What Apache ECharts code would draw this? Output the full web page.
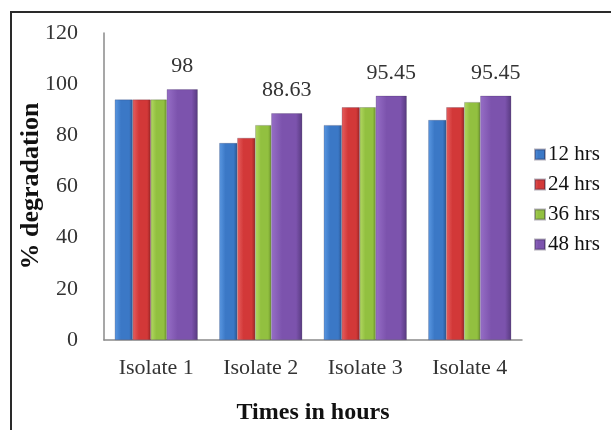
<!DOCTYPE html>
<html>
<head>
<meta charset="utf-8">
<script src="https://cdn.jsdelivr.net/npm/echarts@6/dist/echarts.min.js"></script>
<style>
  html, body { margin: 0; padding: 0; background: #fff; }
  #chart { width: 611px; height: 430px; }
</style>
</head>
<body>
<div id="chart"></div>
<script>
// Degradation (%) per isolate, sampled at four incubation times
const categories = ['Isolate 1', 'Isolate 2', 'Isolate 3', 'Isolate 4'];
const seriesNames = ['12 hrs', '24 hrs', '36 hrs', '48 hrs'];
const hrs12 = [94, 77, 84, 86];
const hrs24 = [94, 79, 91, 91];
const hrs36 = [94, 84, 91, 93];
const hrs48 = [98, 88.63, 95.45, 95.45];
const yTicks = [0, 20, 40, 60, 80, 100, 120];

const FONT = "'Liberation Serif', 'Times New Roman', serif";

// left-lit, right-shaded fills give the columns a rounded 3D look
function columnFill(light, mid, dark) {
  return new echarts.graphic.LinearGradient(0, 0, 1, 0, [
    { offset: 0, color: light },
    { offset: 0.35, color: mid },
    { offset: 0.8, color: mid },
    { offset: 1, color: dark }
  ]);
}

const styles = [
  { fill: columnFill('#5a98e2', '#3b78c6', '#2a5794'), legend: '#3b78c6', width: 18 },
  { fill: columnFill('#e65e5e', '#d23838', '#9a2424'), legend: '#d23838', width: 18 },
  { fill: columnFill('#b2d862', '#92c040', '#6d942c'), legend: '#92c040', width: 16 },
  { fill: columnFill('#966ec6', '#7c53ad', '#583a80'), legend: '#7c53ad', width: 31 }
];
const values = [hrs12, hrs24, hrs36, hrs48];

const series = values.map((vals, i) => ({
  name: seriesNames[i],
  type: 'bar',
  data: vals,
  barWidth: styles[i].width,
  barGap: '0%',
  itemStyle: { color: styles[i].fill, borderColor: 'rgba(40,30,60,0.35)', borderWidth: 0.6 },
  emphasis: { disabled: true },
  label: i === 3 ? {
    show: true,
    position: 'top',
    distance: 12,
    fontFamily: FONT,
    fontSize: 22,
    color: '#333'
  } : { show: false }
}));

const chart = echarts.init(document.getElementById('chart'), null, { renderer: 'canvas' });
chart.setOption({
  animation: false,
  backgroundColor: '#fff',
  color: styles.map(s => s.legend),
  grid: { left: 104, right: 89, top: 33, bottom: 85, containLabel: false },
  legend: {
    orient: 'vertical',
    left: 529,
    top: 139,
    itemWidth: 10,
    itemHeight: 10,
    itemGap: 9,
    icon: 'rect',
    textStyle: { fontFamily: FONT, fontSize: 21, color: '#111', padding: [0, 0, 0, -2] },
    data: seriesNames
  },
  xAxis: {
    type: 'category',
    data: categories,
    name: 'Times in hours',
    nameLocation: 'middle',
    nameGap: 61,
    nameTextStyle: { fontFamily: FONT, fontSize: 24, fontWeight: 'bold', color: '#111' },
    axisLine: { lineStyle: { color: '#8a8a8a', width: 1.5 } },
    axisTick: { show: false },
    axisLabel: { fontFamily: FONT, fontSize: 22, color: '#333', margin: 17 }
  },
  yAxis: {
    type: 'value',
    min: yTicks[0],
    max: yTicks[yTicks.length - 1],
    interval: yTicks[1] - yTicks[0],
    axisLine: { show: true, lineStyle: { color: '#8a8a8a', width: 1.5 } },
    axisTick: { show: false },
    splitLine: { show: false },
    axisLabel: { fontFamily: FONT, fontSize: 22, color: '#333', margin: 26 }
  },
  graphic: [
    {
      type: 'rect',
      shape: { x: 11, y: 12, width: 640, height: 460 },
      style: { fill: 'none', stroke: '#2a2a2a', lineWidth: 2 },
      silent: true
    },
    {
      type: 'text',
      x: 31,
      y: 186,
      rotation: Math.PI / 2,
      style: {
        text: '% degradation',
        fontFamily: FONT,
        fontSize: 26,
        fontWeight: 'bold',
        fill: '#111',
        align: 'center',
        verticalAlign: 'middle'
      },
      silent: true
    }
  ],
  series: series
});
</script>
</body>
</html>
